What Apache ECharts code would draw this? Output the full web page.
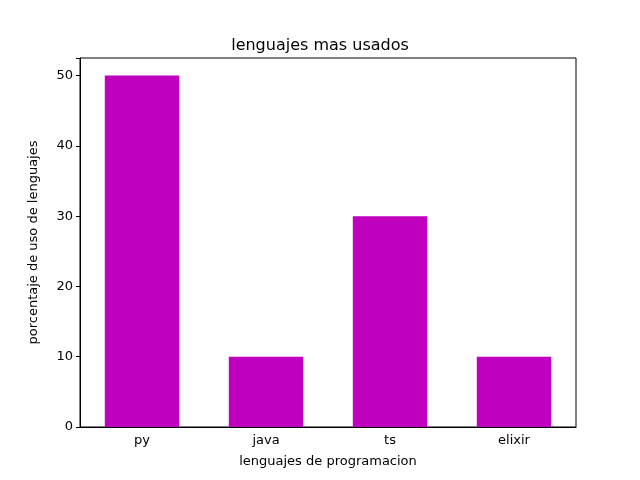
<!DOCTYPE html>
<html><head><meta charset="utf-8">
<script src="https://cdn.jsdelivr.net/npm/echarts@6/dist/echarts.min.js"></script>
<style>html,body{margin:0;padding:0;background:#fff}#c{width:640px;height:480px}</style>
</head><body><div id="c"></div>
<script>
const categories = ['py','java','ts','elixir'];
const values = [50,10,30,10];
const yTicks = [0,10,20,30,40,50];
const chart = echarts.init(document.getElementById('c'));
const font = 'DejaVu Sans';
chart.setOption({
  animation:false,
  title:{text:'lenguajes mas usados',left:'center',top:33,textStyle:{fontFamily:font,fontSize:16,fontWeight:'normal',color:'#000'}},
  grid:{left:80,right:64,top:58,bottom:53},
  xAxis:{type:'category',data:categories,name:'lenguajes de programacion',nameLocation:'middle',nameGap:28,
    nameTextStyle:{fontFamily:font,fontSize:13,color:'#000'},
    axisLine:{lineStyle:{color:'#000'}},axisTick:{alignWithLabel:true,length:4,lineStyle:{color:'#000'}},
    axisLabel:{fontFamily:font,fontSize:13,color:'#000',margin:7}},
  yAxis:{type:'value',min:0,max:52.5,interval:10,name:'porcentaje de uso de lenguajes',nameLocation:'middle',nameGap:40,
    nameTextStyle:{fontFamily:font,fontSize:13,color:'#000'},
    axisLine:{show:true,lineStyle:{color:'#000'}},axisTick:{show:true,length:4,lineStyle:{color:'#000'}},
    splitLine:{show:false},
    axisLabel:{fontFamily:font,fontSize:13,color:'#000',margin:7,formatter:v=>yTicks.includes(v)?String(v):''}},
  series:[{type:'bar',data:values,barWidth:'60%',itemStyle:{color:'#bf00bf'}}],
  graphic:[{type:'rect',shape:{x:80,y:58,width:496,height:369},style:{fill:'none',stroke:'#000',lineWidth:1},silent:true}]
});
</script></body></html>
